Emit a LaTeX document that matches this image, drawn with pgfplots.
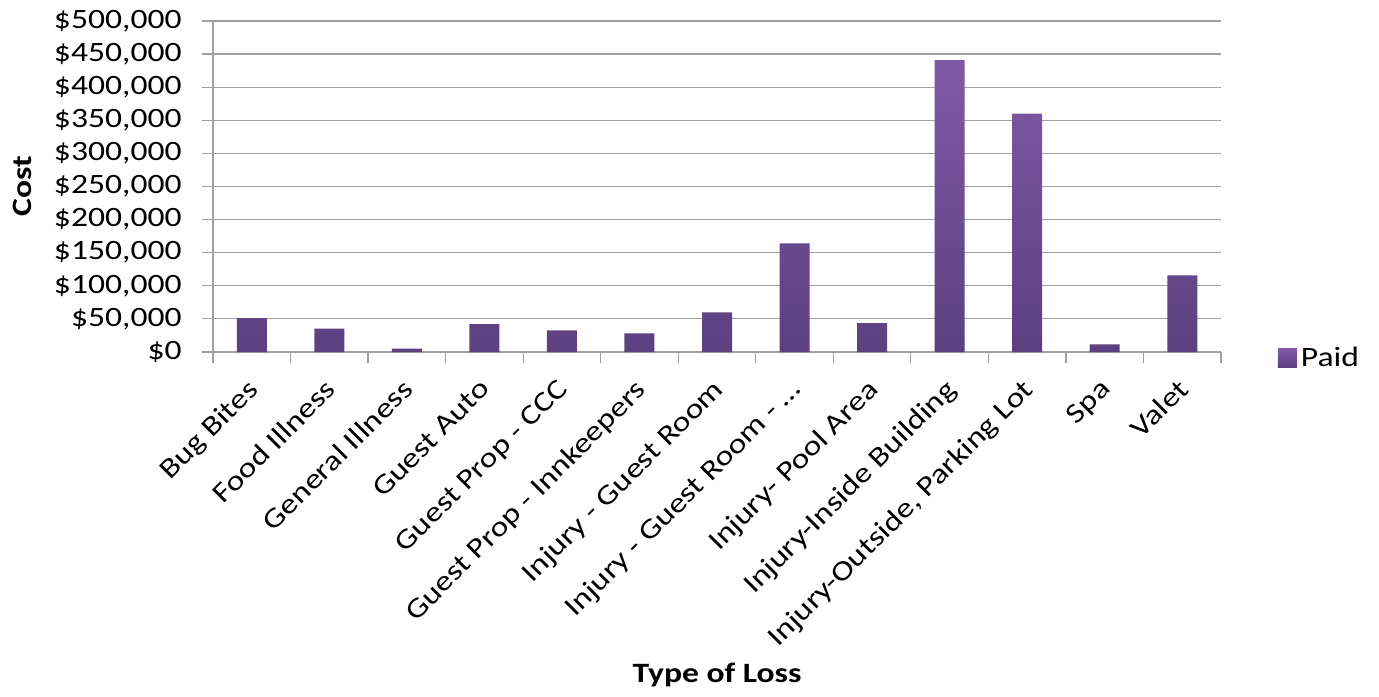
\documentclass[border=0pt]{standalone}
\usepackage{pgfplots}
\pgfplotsset{compat=1.18}
\usepackage{fontspec}
\setmainfont{Carlito}[FakeStretch=1.2]
\definecolor{bartop}{RGB}{128,89,167}
\definecolor{barbot}{RGB}{92,64,128}
\definecolor{gridc}{RGB}{160,160,160}
\begin{document}
\begin{tikzpicture}
\begin{axis}[
  scale only axis,
  width=504pt, height=165.5pt,
  clip=false,
  font=\fontsize{14}{16}\selectfont,
  xmin=-0.5, xmax=12.5,
  ymin=0, ymax=500000,
  ytick={0,50000,...,500000},
  xtick={0,...,12},
  xticklabels={{Bug Bites},{Food Illness},{General Illness},{Guest Auto},{Guest Prop - CCC},{Guest Prop - Innkeepers},{Injury - Guest Room},{Injury - Guest Room - \ldots},{Injury- Pool Area},{Injury-Inside Building},{Injury-Outside, Parking Lot},{Spa},{Valet}},
  minor xtick={-0.5,0.5,1.5,2.5,3.5,4.5,5.5,6.5,7.5,8.5,9.5,10.5,11.5,12.5},
  axis lines*=left,
  axis line style={draw=gridc, line width=0.6pt},
  tick align=outside,
  major tick length=5.5pt,
  minor tick length=5.5pt,
  x tick style={draw=none},
  minor x tick style={draw=gridc, line width=0.6pt},
  y tick style={draw=gridc, line width=0.6pt},
  ymajorgrids,
  grid style={draw=gridc, line width=0.6pt},
  scaled y ticks=false,
  /pgf/number format/assume math mode=true,
  yticklabel={\$\pgfmathprintnumber[fixed,precision=0,1000 sep={,}]{\tick}},
  yticklabel style={anchor=east, inner sep=0pt, xshift=-10pt},
  xticklabel style={xshift=-3pt, yshift=-7pt, rotate=45, anchor=north east, inner sep=0pt},
  ylabel={\bfseries Cost},
  ylabel style={at={(axis description cs:-0.1895,0.5)}, anchor=center},
  xlabel={\bfseries Type of Loss},
  xlabel style={at={(axis description cs:0.5,-0.976)}, anchor=center},
  legend style={at={(axis description cs:1.056,-0.018)}, anchor=west, draw=none, fill=none, inner sep=0pt, font=\fontsize{14}{16}\selectfont},
  legend image code/.code={\path[#1] (0pt,-4.75pt) rectangle (9.5pt,4.75pt);},
]
\addplot[ybar, bar width=15pt, draw=none, top color=bartop, bottom color=barbot]
coordinates {
(0,51300) (1,35300) (2,5000) (3,42200) (4,32700) (5,28200) (6,60000)
(7,164000) (8,43700) (9,441000) (10,360000) (11,11600) (12,115700)
};
\addlegendentry{Paid}
\path (axis description cs:-0.2113,-1.0393) rectangle (axis description cs:1.1567,1.0634);
\end{axis}
\end{tikzpicture}
\end{document}
